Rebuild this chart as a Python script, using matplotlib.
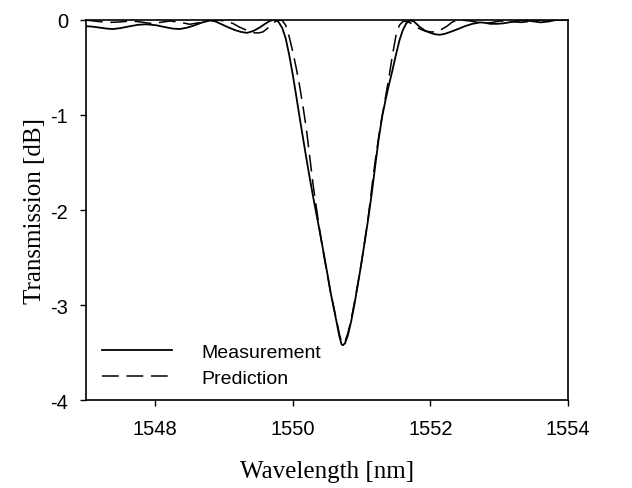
import matplotlib
matplotlib.use("Agg")
import matplotlib.pyplot as plt

# measured transmission (solid)
meas_wl = [1547.00, 1547.10, 1547.20, 1547.30, 1547.39, 1547.50, 1547.64, 1547.76, 1547.88,
           1548.02, 1548.15, 1548.26, 1548.36, 1548.47, 1548.58, 1548.69, 1548.80,
           1548.88, 1548.97, 1549.06, 1549.16, 1549.25, 1549.34, 1549.43, 1549.53,
           1549.60, 1549.67, 1549.72,
           1549.76, 1549.80, 1549.85, 1549.90, 1549.95, 1550.00, 1550.05, 1550.10,
           1550.15, 1550.20, 1550.25, 1550.30, 1550.35, 1550.40, 1550.45, 1550.50,
           1550.55, 1550.60, 1550.65, 1550.68, 1550.71, 1550.73, 1550.76, 1550.80,
           1550.85, 1550.90, 1550.95, 1551.00, 1551.05, 1551.10, 1551.15, 1551.20,
           1551.25, 1551.30, 1551.35, 1551.40, 1551.45, 1551.50, 1551.55, 1551.60,
           1551.65, 1551.70, 1551.76, 1551.85, 1551.93, 1552.00, 1552.07, 1552.14,
           1552.21, 1552.29, 1552.40, 1552.50, 1552.61, 1552.72, 1552.80, 1552.87,
           1552.96, 1553.06, 1553.18, 1553.31, 1553.45, 1553.60, 1553.72, 1553.82,
           1553.92, 1554.00]
meas_db = [-0.07, -0.075, -0.085, -0.095, -0.10, -0.09, -0.07, -0.055, -0.05,
           -0.06, -0.08, -0.095, -0.10, -0.085, -0.06, -0.03, -0.01,
           -0.02, -0.05, -0.08, -0.11, -0.13, -0.14, -0.12, -0.08,
           -0.045, -0.015, -0.003,
           0.0, -0.03, -0.09, -0.20, -0.37, -0.57, -0.79, -1.02,
           -1.24, -1.46, -1.67, -1.87, -2.06, -2.25, -2.45, -2.65,
           -2.86, -3.04, -3.22, -3.33, -3.41, -3.42, -3.40, -3.32,
           -3.17, -2.98, -2.77, -2.55, -2.32, -2.08, -1.82, -1.53,
           -1.25, -1.02, -0.84, -0.68, -0.53, -0.37, -0.22, -0.11,
           -0.04, -0.01, -0.02, -0.08, -0.12, -0.14, -0.155, -0.16,
           -0.15, -0.13, -0.10, -0.07, -0.045, -0.03, -0.035, -0.045,
           -0.045, -0.04, -0.025, -0.01, -0.015, -0.03, -0.02, -0.005,
           -0.005, -0.005]

# predicted transmission (dashed)
pred_wl = [1547.00, 1547.17, 1547.35, 1547.50, 1547.64, 1547.79, 1547.93, 1548.08,
           1548.22, 1548.37, 1548.51, 1548.66, 1548.80, 1548.91, 1549.02, 1549.13,
           1549.23, 1549.34, 1549.45, 1549.51, 1549.57, 1549.64, 1549.70, 1549.75,
           1549.80, 1549.85, 1549.90, 1549.95, 1550.00, 1550.05, 1550.10, 1550.15,
           1550.20, 1550.25, 1550.30, 1550.35, 1550.40, 1550.45, 1550.50, 1550.55,
           1550.60, 1550.65, 1550.68, 1550.71, 1550.73, 1550.76, 1550.80, 1550.85,
           1550.90, 1550.95, 1551.00, 1551.05, 1551.10, 1551.15, 1551.20, 1551.25,
           1551.30, 1551.35, 1551.40, 1551.45, 1551.50, 1551.55, 1551.60, 1551.66,
           1551.72, 1551.78, 1551.85, 1551.92, 1552.01, 1552.10, 1552.17, 1552.24,
           1552.31, 1552.39, 1552.48, 1552.58, 1552.69, 1552.79, 1552.90, 1553.01,
           1553.16, 1553.31, 1553.45, 1553.60, 1553.80, 1554.00]
pred_db = [-0.005, -0.02, -0.03, -0.025, -0.015, -0.025, -0.04, -0.03,
           -0.015, -0.03, -0.05, -0.03, 0.0, -0.005, -0.015, -0.04,
           -0.08, -0.115, -0.14, -0.14, -0.13, -0.09, -0.05, -0.02,
           -0.005, -0.01, -0.06, -0.18, -0.33, -0.50, -0.69, -0.91,
           -1.15, -1.45, -1.75, -2.00, -2.25, -2.46, -2.66, -2.86,
           -3.03, -3.20, -3.31, -3.38, -3.40, -3.38, -3.30, -3.15,
           -2.96, -2.76, -2.55, -2.31, -2.06, -1.76, -1.48, -1.23,
           -1.01, -0.81, -0.60, -0.37, -0.17, -0.06, -0.02, -0.02,
           -0.04, -0.07, -0.10, -0.12, -0.13, -0.13, -0.10, -0.07,
           -0.03, -0.005, -0.008, -0.015, -0.03, -0.04, -0.03, -0.015,
           -0.02, -0.03, -0.02, -0.005, -0.003, 0.0]

xticks = [1548, 1550, 1552, 1554]
yticks = [0, -1, -2, -3, -4]

fig = plt.figure(figsize=(6.32, 4.89), dpi=100)
ax = fig.add_axes([0.136, 0.179, 0.763, 0.779])

ax.plot(meas_wl, meas_db, color="black", lw=1.3, label="Measurement")
ax.plot(pred_wl, pred_db, color="black", lw=1.1, linestyle=(0, (11, 5)),
        label="Prediction")

ax.set_xlim(1547, 1554)
ax.set_ylim(-4, 0)
ax.set_xticks(xticks)
ax.set_yticks(yticks)
ax.set_xticklabels([str(t) for t in xticks], fontsize=14.5, family="Liberation Sans")
ax.set_yticklabels([str(t) for t in yticks], fontsize=14.5, family="Liberation Sans")
ax.tick_params(axis="x", direction="out", length=4, width=1, pad=9)
ax.tick_params(axis="y", direction="out", length=4, width=1, pad=9)
for s in ax.spines.values():
    s.set_linewidth(1.2)

ax.set_xlabel("Wavelength [nm]", fontsize=18, family="Liberation Serif", labelpad=16)
ax.set_ylabel("Transmission [dB]", fontsize=18, family="Liberation Serif", labelpad=3)

ax.legend(loc="lower left", frameon=False, handlelength=3.6, handletextpad=1.5,
          labelspacing=0.45, prop={"family": "Liberation Sans", "size": 14},
          bbox_to_anchor=(0.01, 0.005), borderaxespad=0.2)

fig.savefig("out.png", dpi=100)
